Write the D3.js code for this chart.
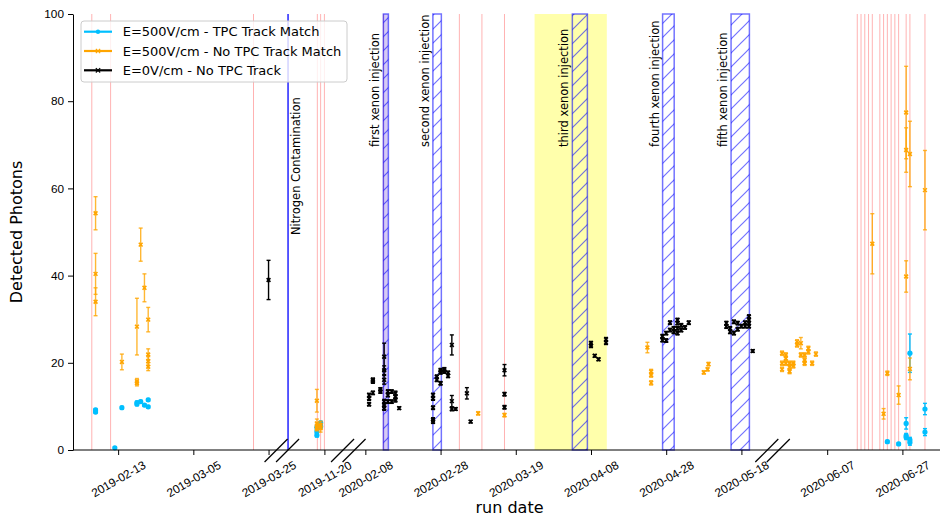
<!DOCTYPE html>
<html>
<head>
<meta charset="utf-8">
<script src="https://cdn.jsdelivr.net/npm/d3@7"></script>
<style>
    html, body { margin: 0; padding: 0; background: #fff; }
    svg { display: block; font-family: "DejaVu Sans", sans-serif; }
    .tick text { font-size: 11.8px; fill: #000; }
    .tick line { stroke: #000; }
</style>
</head>
<body>
<div id="chart"></div>
<script>
// Detected photons per run, broken date axis (four date windows).
// Values.

const WIDTH = 942;
const HEIGHT = 519;
const LEFT = 73, RIGHT = 940, TOP = 14, BOTTOM = 450;
const GAP = 11.5;

// date windows shown on the broken axis
const SEGMENTS = [
    ["2019-02-01", "2019-03-27"],
    ["2019-11-10T05:00", "2019-11-24T20:00"],
    ["2020-02-05", "2020-05-24T18:00"],
    ["2020-05-25", "2020-07-07"],
];

const X_TICKS = [
    "2019-02-13", "2019-03-05", "2019-03-25", "2019-11-20",
    "2020-02-08", "2020-02-28", "2020-03-19", "2020-04-08",
    "2020-04-28", "2020-05-18", "2020-06-07", "2020-06-27",
];
const Y_TICKS = [0, 20, 40, 60, 80, 100];

// [date, photons, error]
const TPC_MATCH = [
    ["2019-02-07", 9.2, 0.3], ["2019-02-07", 8.7, 0.3],
    ["2019-02-12T03:00", 0.5, 0.2],
    ["2019-02-14", 9.7, 0.3],
    ["2019-02-18", 10.9, 0.3], ["2019-02-18", 10.5, 0.3],
    ["2019-02-19", 11.1, 0.3],
    ["2019-02-20", 10.3, 0.3],
    ["2019-02-21", 11.5, 0.3], ["2019-02-21", 9.9, 0.3],
    ["2019-11-18", 5.2, 0.4], ["2019-11-18", 4.2, 0.4], ["2019-11-18", 3.4, 0.4],
    ["2019-11-19", 6.2, 0.4], ["2019-11-19", 5.4, 0.4],
    ["2020-06-23", 1.9, 0.3],
    ["2020-06-26", 1.4, 0.3],
    ["2020-06-28", 6.1, 1.3], ["2020-06-28", 3.3, 0.5], ["2020-06-28", 2.9, 0.5],
    ["2020-06-29", 22.2, 4.4], ["2020-06-29", 2.3, 0.6], ["2020-06-29", 1.7, 0.6],
    ["2020-07-03", 9.4, 1.3], ["2020-07-03", 4.1, 0.8],
];

const NO_TPC_MATCH = [
    ["2019-02-07", 54.3, 3.8], ["2019-02-07", 40.4, 4.7], ["2019-02-07", 34.0, 3.2],
    ["2019-02-14", 20.2, 1.8],
    ["2019-02-18", 28.3, 6.5], ["2019-02-18", 15.8, 0.6], ["2019-02-18", 15.3, 0.6],
    ["2019-02-19", 47.1, 3.8],
    ["2019-02-20", 37.2, 3.2],
    ["2019-02-21", 29.9, 2.8], ["2019-02-21", 21.9, 1.3], ["2019-02-21", 20.4, 1.0],
    ["2019-02-21", 19.1, 0.9],
    ["2019-11-18", 11.3, 2.6], ["2019-11-18", 6.1, 1.0], ["2019-11-18", 5.4, 0.8],
    ["2019-11-18", 5.0, 0.6],
    ["2019-11-19", 5.8, 0.8], ["2019-11-19", 5.0, 0.9],
    ["2020-03-09", 8.4, 0.4],
    ["2020-03-16", 8.0, 0.4],
    ["2020-04-23", 23.5, 1.2],
    ["2020-04-24", 18.0, 0.5], ["2020-04-24", 17.2, 0.5], ["2020-04-24", 15.4, 0.5],
    ["2020-05-08", 17.8, 0.4],
    ["2020-05-09", 18.5, 0.4], ["2020-05-09T06:00", 19.7, 0.4],
    ["2020-05-26", 22.2, 0.5], ["2020-05-26", 19.9, 0.5], ["2020-05-26", 18.5, 0.5],
    ["2020-05-27", 21.8, 0.5], ["2020-05-27", 21.0, 0.5], ["2020-05-27", 19.9, 0.5],
    ["2020-05-28", 19.9, 0.5], ["2020-05-28", 19.0, 0.5], ["2020-05-28", 18.0, 0.5],
    ["2020-05-29", 19.9, 0.5], ["2020-05-29", 19.3, 0.5],
    ["2020-05-30", 24.8, 0.5], ["2020-05-30", 24.1, 0.5],
    ["2020-05-31", 24.5, 1.3], ["2020-05-31", 21.8, 0.5],
    ["2020-06-01", 21.8, 0.5], ["2020-06-01", 20.6, 0.5], ["2020-06-01", 19.9, 0.5],
    ["2020-06-02", 23.3, 0.5], ["2020-06-02", 22.5, 0.5],
    ["2020-06-03", 19.9, 0.5],
    ["2020-06-04", 22.0, 0.5],
    ["2020-06-19", 47.3, 6.9],
    ["2020-06-22", 8.3, 1.2],
    ["2020-06-23", 17.6, 0.5],
    ["2020-06-26", 12.6, 2.1],
    ["2020-06-28", 77.4, 10.6], ["2020-06-28", 68.8, 5.1], ["2020-06-28", 39.8, 3.6],
    ["2020-06-29", 67.9, 7.5], ["2020-06-29", 18.6, 2.5],
    ["2020-07-03", 59.6, 9.1],
];

const ZERO_FIELD = [
    ["2019-03-25", 39.0, 4.5],
    ["2020-02-09", 12.6, 0.4], ["2020-02-09", 11.8, 0.4], ["2020-02-09", 10.5, 0.4],
    ["2020-02-10", 16.1, 0.4], ["2020-02-10", 15.7, 0.4], ["2020-02-10", 13.1, 0.4],
    ["2020-02-12", 13.9, 0.4], ["2020-02-12", 13.4, 0.4],
    ["2020-02-13", 21.4, 3.1], ["2020-02-13", 18.3, 1.0], ["2020-02-13", 16.1, 1.0],
    ["2020-02-13", 11.1, 0.5], ["2020-02-13", 10.3, 0.5], ["2020-02-13", 9.6, 0.5],
    ["2020-02-14", 13.4, 0.4], ["2020-02-14", 12.6, 0.4], ["2020-02-14", 11.1, 0.4],
    ["2020-02-15", 13.4, 0.4], ["2020-02-15", 11.1, 0.4],
    ["2020-02-16", 13.0, 0.5], ["2020-02-16", 12.2, 0.5], ["2020-02-16", 11.5, 0.5],
    ["2020-02-17", 9.6, 0.3],
    ["2020-02-26", 12.6, 0.4], ["2020-02-26", 11.8, 0.4], ["2020-02-26", 9.7, 0.4],
    ["2020-02-26", 7.0, 0.4], ["2020-02-26", 6.5, 0.4],
    ["2020-02-27", 16.8, 0.4], ["2020-02-27", 16.1, 0.4],
    ["2020-02-28", 18.3, 0.4], ["2020-02-28", 17.8, 0.4], ["2020-02-28", 15.3, 0.4],
    ["2020-02-29", 18.5, 0.4], ["2020-02-29", 18.0, 0.4],
    ["2020-03-01", 17.7, 0.4], ["2020-03-01", 17.0, 0.4],
    ["2020-03-02", 24.1, 2.3], ["2020-03-02", 11.2, 1.3], ["2020-03-02", 9.4, 0.4],
    ["2020-03-03", 9.4, 0.3],
    ["2020-03-06", 13.0, 1.3],
    ["2020-03-07", 6.5, 0.3],
    ["2020-03-16", 18.3, 1.3], ["2020-03-16", 12.8, 0.4], ["2020-03-16", 9.8, 0.4],
    ["2020-04-08", 24.5, 0.4], ["2020-04-08", 23.9, 0.4],
    ["2020-04-09", 21.6, 0.3],
    ["2020-04-10", 20.8, 0.3],
    ["2020-04-12", 25.4, 0.4], ["2020-04-12", 24.6, 0.4],
    ["2020-04-27", 26.1, 0.4], ["2020-04-27", 25.2, 0.4],
    ["2020-04-28", 25.1, 0.4], ["2020-04-28", 26.8, 0.4],
    ["2020-04-29", 29.2, 0.4], ["2020-04-29", 27.5, 0.4],
    ["2020-04-30", 27.1, 0.4], ["2020-04-30", 27.9, 0.4],
    ["2020-05-01", 29.8, 0.4], ["2020-05-01", 29.1, 0.4], ["2020-05-01", 27.9, 0.4],
    ["2020-05-01", 26.8, 0.4],
    ["2020-05-02", 27.5, 0.4], ["2020-05-02", 28.6, 0.4],
    ["2020-05-03", 28.1, 0.4],
    ["2020-05-04", 29.2, 0.4],
    ["2020-05-14", 29.1, 0.4], ["2020-05-14", 28.3, 0.4],
    ["2020-05-15", 27.9, 0.4], ["2020-05-15", 27.1, 0.4],
    ["2020-05-16", 29.4, 0.4], ["2020-05-16", 26.8, 0.4],
    ["2020-05-17", 29.1, 0.4], ["2020-05-17", 27.7, 0.4],
    ["2020-05-18", 28.4, 0.4],
    ["2020-05-19", 29.2, 0.4], ["2020-05-19", 28.4, 0.4],
    ["2020-05-20", 30.6, 0.4], ["2020-05-20", 29.8, 0.4], ["2020-05-20", 29.1, 0.4],
    ["2020-05-20", 28.4, 0.4],
    ["2020-05-21", 22.7, 0.3],
];

// thin red run markers
const RUN_LINES = [
    "2019-02-06", "2019-02-11", "2019-03-21",
    "2019-11-18T03:00", "2019-11-19", "2019-11-20",
    "2020-02-12T19:00", "2020-03-04", "2020-03-10", "2020-03-16",
    "2020-06-15", "2020-06-16", "2020-06-17", "2020-06-18", "2020-06-19",
    "2020-06-21", "2020-06-22", "2020-06-23", "2020-06-24", "2020-06-25",
    "2020-06-26", "2020-06-28", "2020-06-29", "2020-07-03",
];

const XENON_LABELS = [
    "first xenon injection", "second xenon injection", "third xenon injection",
    "fourth xenon injection", "fifth xenon injection",
];
const XENON_BANDS = [
    ["2020-02-12T19:00", "2020-02-14T03:00"],
    ["2020-02-25T23:00", "2020-02-28T05:00"],
    ["2020-04-03T01:00", "2020-04-07T01:00"],
    ["2020-04-27T01:00", "2020-04-30T03:00"],
    ["2020-05-15T06:00", "2020-05-20T03:00"],
];
const XENON_LABEL_Y = 69.5;
const YELLOW_BAND = ["2020-03-24", "2020-04-12T05:00"];
const NITROGEN_DATE = "2019-11-10T08:00";
const NITROGEN_LABEL = "Nitrogen Contamination";
const NITROGEN_LABEL_Y = 49.3;

const SERIES = [
    { name: "E=500V/cm - TPC Track Match", data: TPC_MATCH, color: "#00bfff", marker: "dot" },
    { name: "E=500V/cm - No TPC Track Match", data: NO_TPC_MATCH, color: "#ffa500", marker: "x" },
    { name: "E=0V/cm - No TPC Track", data: ZERO_FIELD, color: "#000000", marker: "x" },
];

const parse = (s) => d3.utcParse(s.length > 10 ? "%Y-%m-%dT%H:%M" : "%Y-%m-%d")(s);

// one scale per date window, widths proportional to duration
const spans = SEGMENTS.map(([a, b]) => [parse(a), parse(b)]);
const totalMs = d3.sum(spans, ([a, b]) => b - a);
const pxPerMs = (RIGHT - LEFT - GAP * (spans.length - 1)) / totalMs;
let cursor = LEFT;
const segScales = spans.map(([a, b]) => {
    const w = (b - a) * pxPerMs;
    const s = d3.scaleUtc().domain([a, b]).range([cursor, cursor + w]);
    cursor += w + GAP;
    return s;
});

function x(str) {
    const d = typeof str === "string" ? parse(str) : str;
    for (const s of segScales) {
        const [a, b] = s.domain();
        if (d >= a && d <= b) return s(d);
    }
    return null;
}

const y = d3.scaleLinear().domain([0, 100]).range([BOTTOM, TOP]);

const svg = d3.select("#chart").append("svg")
    .attr("width", WIDTH).attr("height", HEIGHT);

// hatch pattern for the injection windows
const HATCH = 14;
svg.append("defs").append("pattern")
    .attr("id", "hatch")
    .attr("patternUnits", "userSpaceOnUse")
    .attr("width", HATCH).attr("height", HATCH)
    .append("path")
    .attr("d", `M0,${HATCH} L${HATCH},0 M${-HATCH / 2},${HATCH / 2} L${HATCH / 2},${-HATCH / 2} M${HATCH / 2},${HATCH * 1.5} L${HATCH * 1.5},${HATCH / 2}`)
    .attr("stroke", "rgba(0,0,255,0.55)")
    .attr("stroke-width", 1.2);

// yellow window
svg.append("rect")
    .attr("x", x(YELLOW_BAND[0])).attr("y", TOP)
    .attr("width", x(YELLOW_BAND[1]) - x(YELLOW_BAND[0]))
    .attr("height", BOTTOM - TOP)
    .attr("fill", "rgba(255,255,0,0.33)");

// run markers
svg.append("g").selectAll("line")
    .data(RUN_LINES.filter((d) => x(d) !== null))
    .join("line")
    .attr("x1", (d) => x(d)).attr("x2", (d) => x(d))
    .attr("y1", TOP).attr("y2", BOTTOM)
    .attr("stroke", "rgba(255,0,0,0.3)")
    .attr("stroke-width", 1);

// xenon injection windows (the narrow first one reads as a dense purple strip)
svg.append("g").selectAll("rect.tint")
    .data(XENON_BANDS.filter((d) => x(d[1]) - x(d[0]) < 8))
    .join("rect")
    .attr("x", (d) => x(d[0])).attr("y", TOP)
    .attr("width", (d) => x(d[1]) - x(d[0]))
    .attr("height", BOTTOM - TOP)
    .attr("fill", "rgba(120,80,220,0.3)");
svg.append("g").selectAll("rect")
    .data(XENON_BANDS)
    .join("rect")
    .attr("x", (d) => x(d[0])).attr("y", TOP)
    .attr("width", (d) => x(d[1]) - x(d[0]))
    .attr("height", BOTTOM - TOP)
    .attr("fill", "url(#hatch)")
    .attr("stroke", "rgba(0,0,255,0.55)")
    .attr("stroke-width", 1.5);

svg.append("g").selectAll("text")
    .data(XENON_LABELS)
    .join("text")
    .attr("transform", (d, i) => `translate(${x(XENON_BANDS[i][0]) - 8},${y(XENON_LABEL_Y)}) rotate(-90)`)
    .attr("dominant-baseline", "central")
    .attr("font-size", 11.5)
    .text((d) => d);

// nitrogen contamination
svg.append("line")
    .attr("x1", x(NITROGEN_DATE)).attr("x2", x(NITROGEN_DATE))
    .attr("y1", TOP).attr("y2", BOTTOM)
    .attr("stroke", "#0000ff").attr("stroke-width", 1.3);
svg.append("text")
    .attr("transform", `translate(${x(NITROGEN_DATE) + 8},${y(NITROGEN_LABEL_Y)}) rotate(-90)`)
    .attr("dominant-baseline", "central")
    .attr("font-size", 11.5)
    .text(NITROGEN_LABEL);

// data with error bars
const CAP = 2;
const xSym = d3.symbol().type(d3.symbolX).size(11);
for (const s of SERIES) {
    const g = svg.append("g");
    const pts = s.data.filter((d) => x(d[0]) !== null);
    const bars = g.selectAll("g.eb").data(pts).join("g")
        .attr("stroke", s.color)
        .attr("stroke-opacity", s.marker === "x" && s.color !== "#000000" ? 0.8 : 1)
        .attr("stroke-width", 1.4);
    bars.append("line")
        .attr("x1", (d) => x(d[0])).attr("x2", (d) => x(d[0]))
        .attr("y1", (d) => y(d[1] - d[2])).attr("y2", (d) => y(d[1] + d[2]));
    for (const sign of [-1, 1]) {
        bars.append("line")
            .attr("x1", (d) => x(d[0]) - CAP).attr("x2", (d) => x(d[0]) + CAP)
            .attr("y1", (d) => y(d[1] + sign * d[2])).attr("y2", (d) => y(d[1] + sign * d[2]));
    }
    if (s.marker === "dot") {
        g.selectAll("circle").data(pts).join("circle")
            .attr("cx", (d) => x(d[0])).attr("cy", (d) => y(d[1]))
            .attr("r", 2.6).attr("fill", s.color);
    } else {
        g.selectAll("path.mk").data(pts).join("path")
            .attr("class", "mk")
            .attr("transform", (d) => `translate(${x(d[0])},${y(d[1])})`)
            .attr("d", xSym)
            .attr("fill", s.color)
            .attr("stroke", s.color).attr("stroke-width", 1.6);
    }
}

// axes
const yAxis = svg.append("g")
    .attr("transform", `translate(${LEFT},0)`)
    .call(d3.axisLeft(y).tickValues(Y_TICKS).tickSize(5).tickSizeOuter(0).tickPadding(4));
yAxis.select(".domain").attr("stroke", "#000");

svg.append("line")
    .attr("x1", LEFT).attr("x2", RIGHT)
    .attr("y1", BOTTOM).attr("y2", BOTTOM)
    .attr("stroke", "#000");

const fmt = d3.utcFormat("%Y-%m-%d");
for (const s of segScales) {
    const [a, b] = s.domain();
    const ticks = X_TICKS.map(parse).filter((d) => d >= a && d <= b);
    const ax = svg.append("g")
        .attr("transform", `translate(0,${BOTTOM})`)
        .call(d3.axisBottom(s).tickValues(ticks).tickFormat(fmt).tickSize(5).tickSizeOuter(0));
    ax.select(".domain").remove();
    ax.selectAll(".tick text")
        .attr("y", null).attr("dy", null)
        .attr("transform", "translate(0,29) rotate(-30)")
        .attr("text-anchor", "middle")
        .attr("dominant-baseline", "central");
}

// break marks
const breaks = [];
for (let i = 0; i < segScales.length - 1; i++) {
    breaks.push(segScales[i].range()[1], segScales[i + 1].range()[0]);
}
svg.append("g").selectAll("line")
    .data(breaks)
    .join("line")
    .attr("x1", (d) => d - 11.5).attr("y1", BOTTOM + 12)
    .attr("x2", (d) => d + 11.5).attr("y2", BOTTOM - 11)
    .attr("stroke", "#000").attr("stroke-width", 1.2);

// axis labels
svg.append("text")
    .attr("transform", `translate(16,${(TOP + BOTTOM) / 2}) rotate(-90)`)
    .attr("text-anchor", "middle")
    .attr("dominant-baseline", "central")
    .attr("font-size", 16)
    .text("Detected Photons");
svg.append("text")
    .attr("x", (LEFT + RIGHT) / 2 + 3).attr("y", 513)
    .attr("text-anchor", "middle")
    .attr("font-size", 16)
    .text("run date");

// legend
const legend = svg.append("g").attr("transform", "translate(81,21)");
legend.append("rect")
    .attr("width", 266).attr("height", 61).attr("rx", 3)
    .attr("fill", "rgba(255,255,255,0.8)")
    .attr("stroke", "#cccccc");
SERIES.forEach((s, i) => {
    const row = legend.append("g").attr("transform", `translate(0,${10.7 + i * 19.3})`);
    row.append("line")
        .attr("x1", 3).attr("x2", 31)
        .attr("stroke", s.color).attr("stroke-width", 2.2);
    if (s.marker === "dot") {
        row.append("circle").attr("cx", 17).attr("r", 2.2).attr("fill", s.color);
    } else {
        row.append("path").attr("transform", "translate(17,0)")
            .attr("d", d3.symbol().type(d3.symbolX).size(14))
            .attr("stroke", s.color).attr("stroke-width", 1.2);
    }
    row.append("text")
        .attr("x", 41.7)
        .attr("dominant-baseline", "central")
        .attr("font-size", 13)
        .text(s.name);
});
</script>
</body>
</html>
